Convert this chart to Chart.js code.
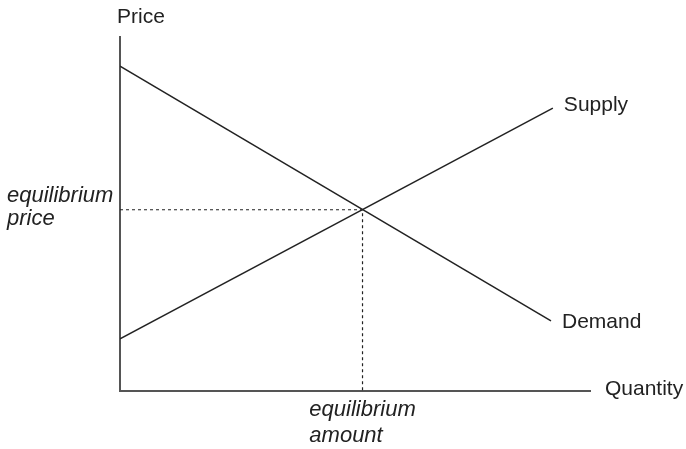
<!DOCTYPE html>
<html>
<head>
<meta charset="utf-8">
<script src="https://cdn.jsdelivr.net/npm/chart.js@4/dist/chart.umd.min.js"></script>
<style>
  html, body { margin: 0; padding: 0; background: #fff; }
  #wrap { width: 686px; height: 449px; position: relative; }
</style>
</head>
<body>
<div id="wrap"><canvas id="chart"></canvas></div>
<script>
// supply / demand curves (quantity, price)
const supplyQty = [0, 92.1];
const supplyPrice = [14.7, 79.9];
const demandQty = [0, 91.7];
const demandPrice = [91.8, 19.8];
const equilibrium = [51.6, 51.2]; // [amount, price]

const axisLabels = { x: 'Quantity', y: 'Price' };
const curveLabels = ['Supply', 'Demand'];
const eqPriceLabel = ['equilibrium', 'price'];
const eqAmountLabel = ['equilibrium', 'amount'];

const pts = (xs, ys) => xs.map((x, i) => ({ x, y: ys[i] }));
const FONT = '21px "Liberation Sans", Arial, sans-serif';
const FONT_I = 'italic 22px "Liberation Sans", Arial, sans-serif';
const INK = '#222';

const labelsPlugin = {
  id: 'econLabels',
  afterDraw(chart) {
    const { ctx, chartArea: a, scales: { x, y } } = chart;
    ctx.save();
    ctx.fillStyle = INK;
    ctx.textBaseline = 'alphabetic';
    ctx.textAlign = 'left';
    ctx.font = FONT;
    ctx.fillText(axisLabels.y, a.left - 3, a.top - 14);
    ctx.fillText(axisLabels.x, a.right + 15, a.bottom + 4);

    const sEnd = supplyQty.length - 1, dEnd = demandQty.length - 1;
    ctx.fillText(curveLabels[0], x.getPixelForValue(supplyQty[sEnd]) + 11, y.getPixelForValue(supplyPrice[sEnd]) + 3);
    ctx.fillText(curveLabels[1], x.getPixelForValue(demandQty[dEnd]) + 11, y.getPixelForValue(demandPrice[dEnd]) + 7);

    ctx.font = FONT_I;
    const ey = y.getPixelForValue(equilibrium[1]);
    ctx.fillText(eqPriceLabel[0], 7, ey - 8);
    ctx.fillText(eqPriceLabel[1], 7, ey + 15);

    const ex = x.getPixelForValue(equilibrium[0]);
    const w = ctx.measureText(eqAmountLabel[0]).width;
    ctx.fillText(eqAmountLabel[0], ex - w / 2, a.bottom + 25);
    ctx.fillText(eqAmountLabel[1], ex - w / 2, a.bottom + 51);
    ctx.restore();
  }
};

new Chart(document.getElementById('chart'), {
  type: 'line',
  data: {
    datasets: [
      { label: 'Demand', data: pts(demandQty, demandPrice), borderColor: INK, borderWidth: 1.5, pointRadius: 0 },
      { label: 'Supply', data: pts(supplyQty, supplyPrice), borderColor: INK, borderWidth: 1.5, pointRadius: 0 },
      {
        label: 'Equilibrium',
        data: [{ x: 0, y: equilibrium[1] }, { x: equilibrium[0], y: equilibrium[1] }, { x: equilibrium[0], y: 0 }],
        borderColor: INK, borderWidth: 1.2, borderDash: [3, 3], pointRadius: 0,
      },
    ],
  },
  options: {
    responsive: true, maintainAspectRatio: false, animation: false,
    layout: { padding: { left: 120, right: 96, top: 37, bottom: 58 } },
    plugins: { legend: { display: false }, tooltip: { enabled: false } },
    scales: {
      x: {
        type: 'linear', min: 0, max: 100,
        grid: { display: false, drawTicks: false },
        ticks: { display: false },
        border: { display: true, color: '#555', width: 2 },
      },
      y: {
        type: 'linear', min: 0, max: 100,
        grid: { display: false, drawTicks: false },
        ticks: { display: false },
        border: { display: true, color: '#555', width: 2 },
      },
    },
  },
  plugins: [labelsPlugin],
});
</script>
</body>
</html>
